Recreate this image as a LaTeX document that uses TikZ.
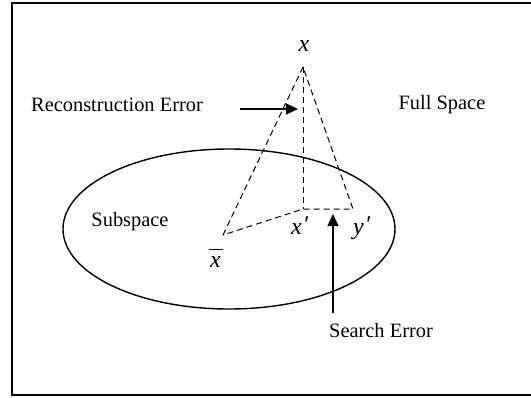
\documentclass[tikz,border=0pt]{standalone}
\usepackage{fontspec}
\setmainfont{Liberation Serif}
\usetikzlibrary{arrows.meta}
\tikzset{
  lbl/.style={font=\fontsize{20.4}{24}\selectfont, inner sep=0pt},
  var/.style={font=\fontsize{24}{28}\selectfont\itshape, inner sep=0pt},
  pointille/.style={dashed, dash pattern=on 6pt off 4pt, line width=1pt},
  fleche/.style={line width=1.4pt, -{Triangle[length=12pt,width=11pt]}}
}
\begin{document}
\begin{tikzpicture}[x=1pt, y=-1pt]
                \useasboundingbox (0,0) rectangle (531,397);
                \draw[line width=2pt] (534,3) -- (12,3) -- (12,395) -- (534,395);

                \coordinate (X) at (303, 67);
                \coordinate (Xp) at (303, 209);
                \coordinate (Yp) at (353, 209);
                \coordinate (Xb) at (223, 235);

                % sous-espace
                \draw[line width=1.4pt] (229, 229) ellipse (166pt and 80pt);

                \draw[pointille] (Xb) -- (X) -- (Yp) -- (Xp) -- (Xb);
                \draw[pointille] (X) -- (Xp);

                % etiquettes des points
                \node[var] (xlab) at (304, 46) {x};
                \node[var, anchor=base west] (xplab) at (291, 234) {x\kern1pt\raisebox{2pt}{′}};
                \node[var, anchor=base west] (yplab) at (353, 234) {y\kern1pt\raisebox{2pt}{′}};
                \node[var, anchor=base west] (xblab) at (210, 267) {x};
                \draw[line width=1pt] (209, 249) -- (223, 249);

                \node[lbl] (rec) at (117, 105) {Reconstruction Error};
                \node[lbl] (full) at (442, 105) {Full Space};
                \node[lbl] (sub) at (130, 222) {Subspace};
                \node[lbl] (search) at (381, 331) {Search Error};

                \coordinate (RecA) at (240, 109);
                \coordinate (RecB) at (298, 109);
                \coordinate (SeaA) at (333, 313);
                \coordinate (SeaB) at (333, 214);
                \draw[fleche] (RecA) -- (RecB);
                \draw[fleche] (SeaA) -- (SeaB);
            \end{tikzpicture}
\end{document}
